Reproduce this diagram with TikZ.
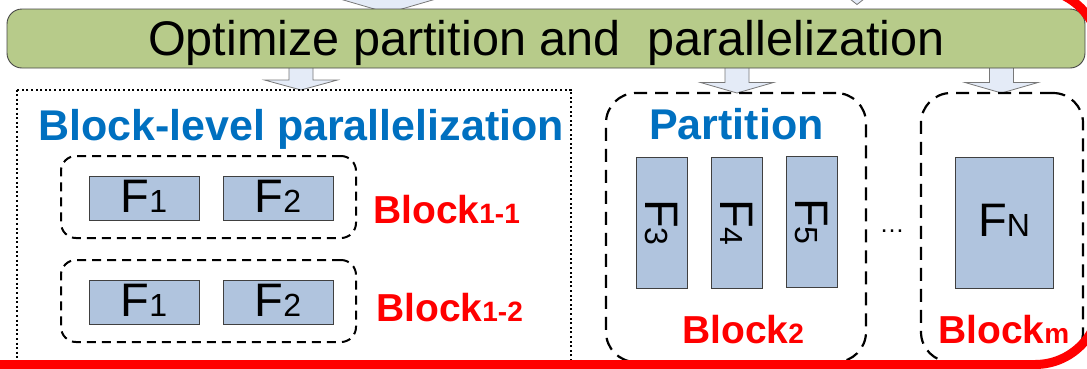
\documentclass[tikz,border=0pt]{standalone}
\usepackage{fontspec}
\setmainfont{Liberation Sans}

\definecolor{barGreen}{RGB}{183,203,138}
\definecolor{barEdge}{RGB}{70,70,70}
\definecolor{fFill}{RGB}{176,196,222}
\definecolor{arrowFill}{RGB}{228,235,247}
\definecolor{arrowEdge}{RGB}{120,120,120}
\definecolor{titleBlue}{RGB}{0,112,192}
\definecolor{labelRed}{RGB}{255,0,0}

% F_i labels: large F with a smaller index on the baseline
\newcommand{\flabel}[1]{{\fontsize{47}{50}\selectfont F}{\fontsize{32}{34}\selectfont #1}}
% Block_i labels
\newcommand{\blklabel}[1]{{\fontsize{39}{42}\selectfont\bfseries Block}{\fontsize{28}{30}\selectfont\bfseries #1}}
% block arrow pointing down: #1 centre x, #2 shaft top, #3 head base, #4 tip
\newcommand{\downblock}[4]{%
  \draw[arrowshape] (#1-12,#2) -- (#1-12,#3) -- (#1-36.5,#3) -- (#1,#4)
    -- (#1+36.5,#3) -- (#1+12,#3) -- (#1+12,#2);}

\tikzset{
  arrowshape/.style={draw=arrowEdge, fill=arrowFill, line width=0.8pt, line join=miter},
  fbox/.style={draw=black!75, line width=0.9pt, fill=fFill, inner sep=0pt, text depth=4pt},
  groupbox/.style={draw=black, line width=2pt, dash pattern=on 9pt off 6pt,
    rounded corners=15pt, inner sep=0pt},
  bigbox/.style={draw=black, line width=2.2pt, dash pattern=on 13pt off 8pt,
    rounded corners=30pt, inner sep=0pt},
  outerbox/.style={draw=black, line width=2pt, dash pattern=on 2pt off 2.6pt},
  bluetitle/.style={text=titleBlue, inner sep=0pt, anchor=base,
    font=\fontsize{43}{46}\selectfont\bfseries},
  redlabel/.style={text=labelRed, inner sep=0pt, anchor=base west},
  redframe/.style={draw=labelRed, line width=9pt, rounded corners=65pt}
}

\begin{document}
\begin{tikzpicture}[x=1pt, y=-1pt]
\useasboundingbox (0,0) rectangle (1087,368);
\clip (0,0) rectangle (1087,368);

% arrows entering the bar from above
\draw[arrowshape] (340,-1) -- (388,13) -- (436,-1);
\draw[arrowshape] (850,-1) -- (857,4.5) -- (864,-1);

% arrows leaving the bar
\downblock{301}{60}{80}{90}
\downblock{737}{60}{82.5}{93}
\downblock{1001.5}{60}{82.5}{93}

% top bar
\node[draw=barEdge, fill=barGreen, line width=0.9pt, rounded corners=15pt,
      minimum width=1078pt, minimum height=59pt, inner sep=0pt] (bar) at (546,38.5) {};
\node[anchor=base, inner sep=0pt, font=\fontsize{48.6}{50}\selectfont] (bartext) at (546.5,55)
  {Optimize partition and\ \ parallelization};

% block-level parallelization
\draw[outerbox] (16.5,89.5) rectangle (571,385);
\node[bluetitle] (bltitle) at (301,140) {Block-level parallelization};

\node[groupbox, minimum width=295pt, minimum height=82pt] (g11) at (208.5,197) {};
\node[fbox, minimum width=110pt, minimum height=44pt] (f11a) at (144,198) {\flabel{1}};
\node[fbox, minimum width=110pt, minimum height=44pt] (f11b) at (278,198) {\flabel{2}};
\node[redlabel] (b11) at (373,223) {\blklabel{1-1}};

\node[groupbox, minimum width=295pt, minimum height=82pt] (g12) at (208.5,301) {};
\node[fbox, minimum width=110pt, minimum height=44pt] (f12a) at (144,302) {\flabel{1}};
\node[fbox, minimum width=110pt, minimum height=44pt] (f12b) at (278,302) {\flabel{2}};
\node[redlabel] (b12) at (376,321) {\blklabel{1-2}};

% partition
\node[bigbox, minimum width=260pt, minimum height=269pt] (part) at (736,227.5) {};
\node[bluetitle] (pttitle) at (736.5,139) {Partition};
\node[fbox, minimum width=51pt, minimum height=131pt] (f3) at (661.5,222.5) {};
\node[fbox, minimum width=51pt, minimum height=131pt] (f4) at (736.5,222.5) {};
\node[fbox, minimum width=51pt, minimum height=131pt] (f5) at (811.5,221.5) {};
\node[rotate=-90, inner sep=0pt] (f3lab) at (f3.center) {\flabel{3}};
\node[rotate=-90, inner sep=0pt] (f4lab) at (f4.center) {\flabel{4}};
\node[rotate=-90, inner sep=0pt] (f5lab) at (f5.center) {\flabel{5}};
\node[redlabel] (b2) at (682,343) {\blklabel{2}};

\node[anchor=base, inner sep=0pt, font=\fontsize{25}{26}\selectfont] (dots) at (892,232) {\ldots};

% last block
\node[bigbox, minimum width=162pt, minimum height=269pt] (lastb) at (1002,227.5) {};
\node[fbox, minimum width=98pt, minimum height=131pt] (fn) at (1004,222.5) {\flabel{N}};
\node[redlabel] (bm) at (938,343) {\blklabel{m}};

% red frame around everything
\draw[redframe] (-100,-11) rectangle (1100,364.5);
\end{tikzpicture}
\end{document}
